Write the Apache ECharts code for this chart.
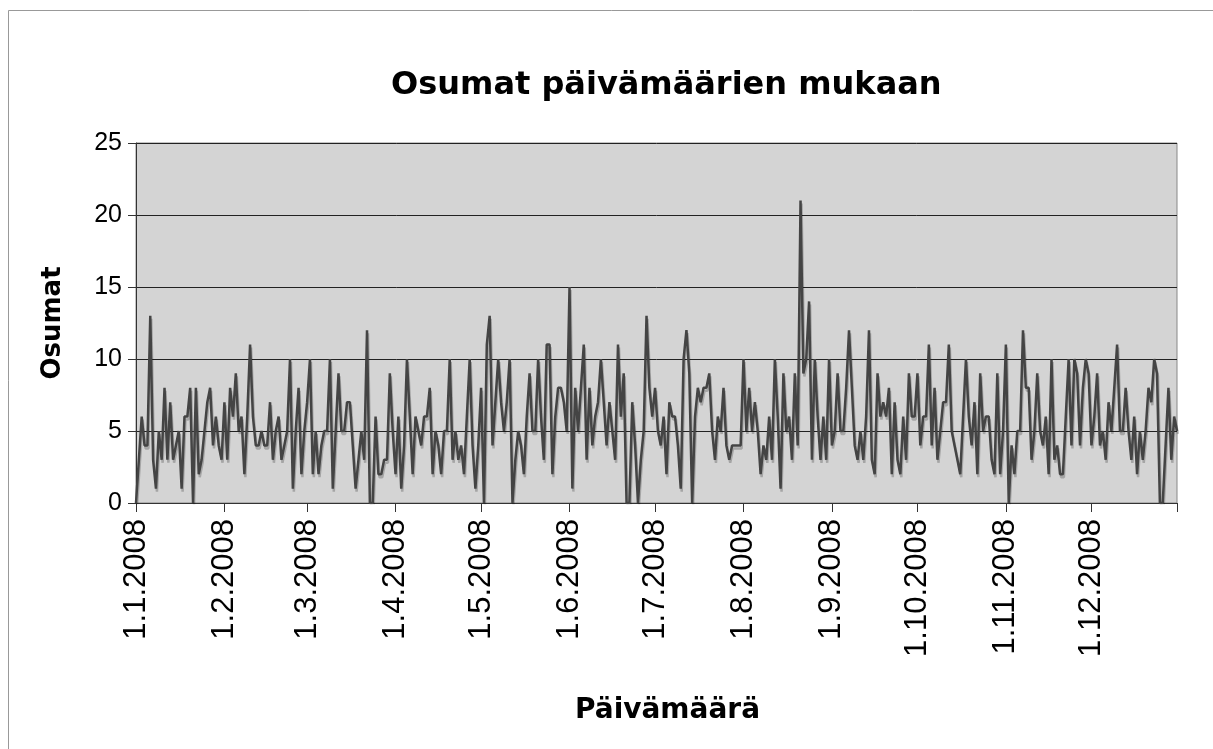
<!DOCTYPE html>
<html>
<head>
<meta charset="utf-8">
<title>Osumat päivämäärien mukaan</title>
<script src="https://cdn.jsdelivr.net/npm/echarts@6/dist/echarts.min.js"></script>
<style>
html, body { margin: 0; padding: 0; background: #fff; }
#chart { width: 1213px; height: 749px; }
</style>
</head>
<body>
<div id="chart"></div>
<script>
// osumat per päivä, kuukausittain (2008)
var jan = [0,3,6,4,4,13,3,1,5,3,8,3,7,3,4,5,1,6,6,8,0,8,2,3,5,7,8,4,6,4,3];
var feb = [7,3,8,6,9,5,6,2,6,11,6,4,4,5,4,4,7,3,5,6,3,4,5,10,1,5,8,2,5];
var mar = [7,10,2,5,2,4,5,5,10,1,5,9,5,5,7,7,4,1,3,5,3,12,0,0,6,2,2,3,3,9,5];
var apr = [2,6,1,4,10,6,2,6,5,4,6,6,8,2,5,4,2,5,5,10,3,5,3,4,2,6,10,4,1,4];
var may = [8,0,11,13,4,7,10,7,5,7,10,0,3,5,4,2,6,9,5,5,10,6,3,11,11,2,6,8,8,7,5];
var jun = [15,1,8,5,8,11,3,8,4,6,7,10,7,4,7,5,3,11,6,9,0,0,7,4,0,3,5,13,8,6];
var jul = [8,5,4,6,2,7,6,6,4,1,10,12,9,0,6,8,7,8,8,9,5,3,6,5,8,4,3,4,4,4,4];
var aug = [10,5,8,5,7,5,2,4,3,6,3,10,6,1,9,5,6,3,9,4,21,9,10,14,3,10,6,3,6,3,10];
var sep = [4,5,9,5,5,8,12,8,4,3,5,3,6,12,3,2,9,6,7,6,8,2,7,3,2,6,3,9,6,6];
var oct = [9,4,6,6,11,4,8,3,5,7,7,11,5,4,3,2,6,10,6,4,7,2,9,5,6,6,3,2,9,2,5];
var nov = [11,0,4,2,5,5,12,8,8,3,5,9,5,4,6,2,10,3,4,2,2,6,10,4,10,9,4,8,10,9];
var dec = [4,6,9,4,5,3,7,5,8,11,5,5,8,5,3,6,2,5,3,5,8,7,10,9,0,0,4,8,3,6,5];

var months = [jan, feb, mar, apr, may, jun, jul, aug, sep, oct, nov, dec];
var dates = [];
var hits = [];
months.forEach(function(arr, m){
    arr.forEach(function(v, d){
        dates.push((d + 1) + '.' + (m + 1) + '.2008');
        hits.push(v);
    });
});

function isMonthStart(idx, val){
    return val.indexOf('1.') === 0;
}

var chart = echarts.init(document.getElementById('chart'));
var font = '"Liberation Sans", Arial, sans-serif';
var boldFont = '"DejaVu Sans", Verdana, sans-serif';

option = {
    animation: false,
    backgroundColor: '#fff',
    title: {
        text: 'Osumat päivämäärien mukaan',
        left: 386,
        top: 65,
        textStyle: {
            fontFamily: boldFont,
            fontWeight: 'bold',
            fontSize: 32,
            color: '#000'
        }
    },
    graphic: [{
        type: 'rect',
        shape: { x: 8.5, y: 10.5, width: 1230, height: 760 },
        style: { fill: 'none', stroke: '#999', lineWidth: 1 },
        silent: true
    }],
    grid: {
        left: 136,
        top: 143,
        width: 1041,
        height: 360,
        show: true,
        backgroundColor: '#d4d4d4',
        borderColor: '#888',
        borderWidth: 1
    },
    xAxis: {
        type: 'category',
        data: dates,
        boundaryGap: false,
        name: 'Päivämäärä',
        nameLocation: 'middle',
        nameGap: 194,
        nameTextStyle: {
            fontFamily: boldFont,
            fontWeight: 'bold',
            fontSize: 28,
            color: '#000',
            padding: [0, 0, 0, 22]
        },
        axisLine: { lineStyle: { color: '#333', width: 1 } },
        axisTick: {
            interval: function(idx, val){ return isMonthStart(idx, val) || idx === dates.length - 1; },
            length: 9,
            lineStyle: { color: '#333' }
        },
        axisLabel: {
            interval: isMonthStart,
            rotate: 90,
            margin: 16,
            fontFamily: font,
            fontSize: 31,
            color: '#000'
        },
        splitLine: { show: false }
    },
    yAxis: {
        type: 'value',
        min: 0,
        max: 25,
        interval: 5,
        name: 'Osumat',
        nameLocation: 'middle',
        nameGap: 70,
        nameTextStyle: {
            fontFamily: boldFont,
            fontWeight: 'bold',
            fontSize: 26,
            color: '#000'
        },
        axisLine: { show: true, lineStyle: { color: '#333', width: 1 } },
        axisTick: { show: true, length: 8, lineStyle: { color: '#333' } },
        axisLabel: {
            margin: 14,
            fontFamily: font,
            fontSize: 25,
            color: '#000'
        },
        splitLine: { lineStyle: { color: '#222', width: 1 } }
    },
    series: [{
        name: 'Osumat',
        type: 'line',
        data: hits,
        symbol: 'none',
        lineStyle: {
            color: '#444',
            width: 2.5,
            shadowColor: 'rgba(0,0,0,0.22)',
            shadowOffsetX: 1,
            shadowOffsetY: 3,
            shadowBlur: 0
        }
    }]
};
chart.setOption(option);
</script>
</body>
</html>
